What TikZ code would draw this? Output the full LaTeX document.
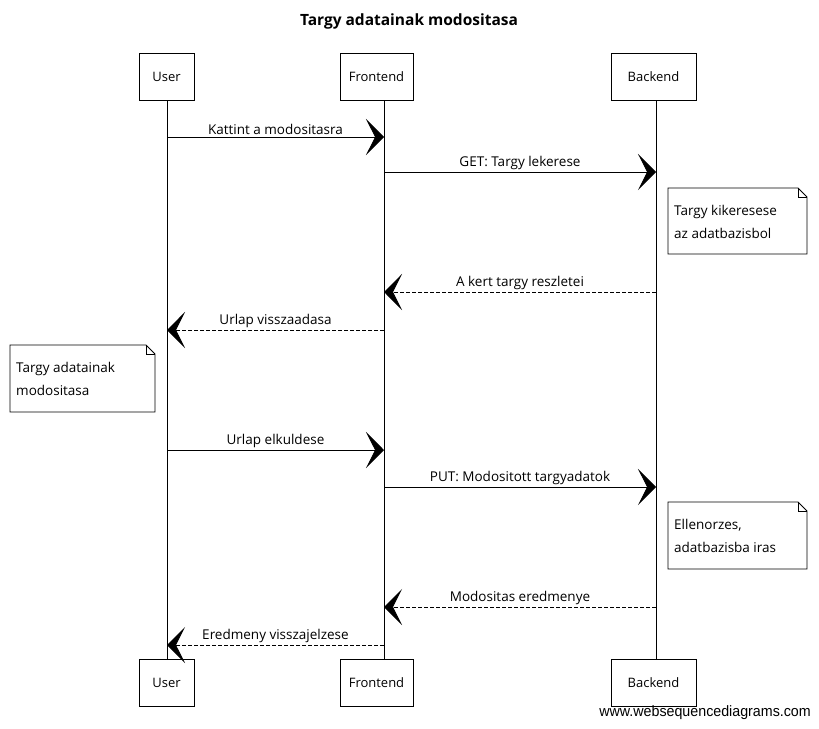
\documentclass[tikz,border=0pt]{standalone}
\usepackage{fontspec}
\setmainfont{Open Sans}
\newfontfamily\footfont{Liberation Sans}
\usetikzlibrary{arrows.meta,calc}
\begin{document}
\begin{tikzpicture}[x=1pt,y=-1pt,
  actor/.style={draw,line width=0.9pt,minimum width=#1,minimum height=47pt,inner sep=0pt,font=\fontsize{13}{15}\selectfont},
  life/.style={line width=0.6pt},
  msg/.style={line width=1pt,-{Stealth[length=18pt,width=36pt,inset=9pt]}},
  ret/.style={msg,dashed,dash pattern=on 4pt off 2pt},
  lbl/.style={font=\fontsize{13.5}{15}\selectfont,above,inner sep=2pt},
  notetxt/.style={font=\fontsize{13.5}{23}\selectfont,align=left,anchor=north west,inner sep=0pt}
]
\useasboundingbox (0,0) rectangle (819,728);
\fill[white] (0,0) rectangle (819,728);
\node[font=\bfseries\fontsize{15.5}{18}\selectfont] (title) at (409,21) {Targy adatainak modositasa};

% actors
\node[actor=55pt] (ut) at (166.5,76.5) {User};
\node[actor=73pt] (ft) at (376.5,76.5) {Frontend};
\node[actor=85pt] (bt) at (653.5,76.5) {Backend};
\node[actor=55pt] (ub) at (166.5,683) {User};
\node[actor=73pt] (fb) at (376.5,683) {Frontend};
\node[actor=85pt] (bb) at (653.5,683) {Backend};

% lifelines
\coordinate (ul) at (167,0);
\coordinate (fl) at (384,0);
\coordinate (bl) at (656,0);
\draw[life] (ut.south -| ul) -- (ub.north -| ul);
\draw[life] (ft.south -| fl) -- (fb.north -| fl);
\draw[life] (bt.south -| bl) -- (bb.north -| bl);

% messages
\newcommand\msgline[5]{% style, from x, to x, y, label
  \coordinate (m1) at ($(#2)+(0,#4)$);
  \coordinate (m2) at ($(#3)+(0,#4)$);
  \draw[#1] (m1) -- node[lbl] {#5} (m2);}
\msgline{msg}{ul}{fl}{137}{Kattint a modositasra}
\msgline{msg}{fl}{bl}{172}{GET: Targy lekerese}
\msgline{ret}{bl}{fl}{292}{A kert targy reszletei}
\msgline{ret}{fl}{ul}{330}{Urlap visszaadasa}
\msgline{msg}{ul}{fl}{450}{Urlap elkuldese}
\msgline{msg}{fl}{bl}{487}{PUT: Modositott targyadatok}
\msgline{ret}{bl}{fl}{607}{Modositas eredmenye}
\msgline{ret}{fl}{ul}{645}{Eredmeny visszajelzese}

% notes
\newcommand\notebox[6]{% name, x1, y1, x2, y2, text
  \draw[line width=0.9pt] (#2,#3) -- (#4-9,#3) -- (#4,#3+9) -- (#4,#5) -- (#2,#5) -- cycle;
  \draw[line width=0.6pt] (#4-9,#3) -- (#4-9,#3+9) -- (#4,#3+9);
  \node[notetxt] (#1) at (#2+6,#3+17) {#6};}
\notebox{n1}{668}{188}{807}{254}{Targy kikeresese\\az adatbazisbol}
\notebox{n2}{10}{345}{155}{412}{Targy adatainak\\modositasa}
\notebox{n3}{668}{502}{807}{569}{Ellenorzes,\\adatbazisba iras}

\node[font=\footfont\fontsize{15}{17}\selectfont,anchor=east,inner sep=0pt,xscale=0.95] (foot) at (811,713) {www.websequencediagrams.com};
\end{tikzpicture}
\end{document}
